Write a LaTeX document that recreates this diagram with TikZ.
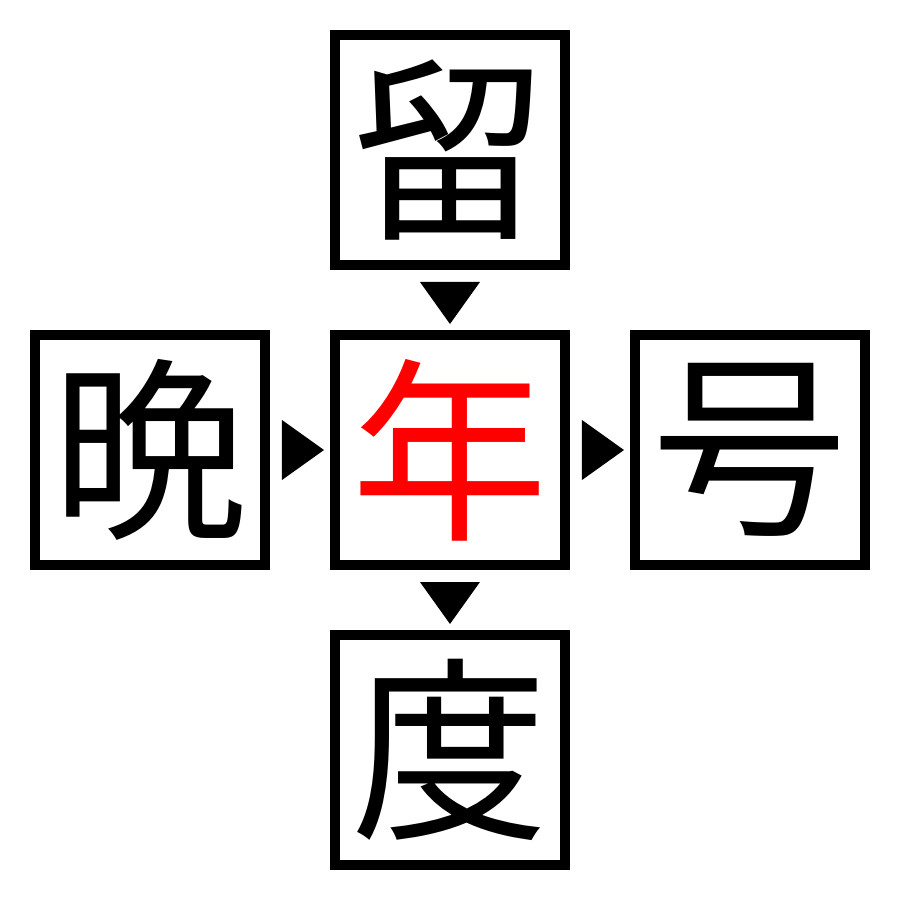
\documentclass[tikz,border=0pt]{standalone}
\usepackage{fontspec}
\newfontfamily\cjk{Noto Sans CJK JP}
\usetikzlibrary{positioning,calc}
\begin{document}
\begin{tikzpicture}
    \useasboundingbox (-4.5,-4.5) rectangle (4.5,4.5);
    \tikzset{kanji/.style={draw,rectangle,line width=0.1cm,minimum size=2.3cm,inner sep=0pt,
        font=\cjk\fontsize{56}{56}\selectfont}}

    %draw centre square
    \node[kanji,text=red] (nodeC) at (0,0) {年};
    %draw outer squares
    \node[kanji,above=0.6cm of nodeC] (nodeT) {留};
    \node[kanji,below=0.6cm of nodeC] (nodeB) {度};
    \node[kanji,left=0.6cm of nodeC] (nodeL) {晩};
    \node[kanji,right=0.6cm of nodeC] (nodeR) {号};

    %draw pointers
    \foreach \a/\b/\r in {nodeT/nodeC/-90, nodeC/nodeB/-90, nodeL/nodeC/0, nodeC/nodeR/0}{
        \fill[shift={($(\a)!0.51!(\b)$)},rotate=\r] (-0.21,0.3) -- (0.21,0) -- (-0.21,-0.3) -- cycle;
    }
\end{tikzpicture}
\end{document}
